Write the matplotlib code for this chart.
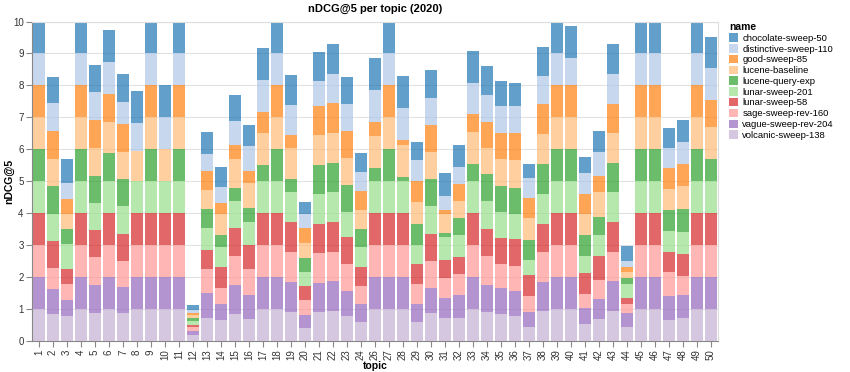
import numpy as np
import matplotlib.pyplot as plt
from matplotlib.patches import Patch

plt.rcParams['font.family'] = ['Liberation Sans', 'DejaVu Sans']

# topic 25 is absent in the data
topics = [str(t) for t in list(range(1, 25)) + list(range(26, 51))]

# nDCG@5 per run, one value per topic (same order as topics)
volcanic_sweep_138 = [1, .85, .78, 1, .89, 1, .87, 1, 1, 1, 1, .20, .71, .66, .85, .69, 1, 1, .92, .42, .92, .95, .79, .61,
                      1, 1, 1, .58, .87, .73, .71, 1, .92, .84, .78, .45, .95, 1, 1, .52, .68, .94, .44, 1, 1, .65, .71, 1, 1]
vague_sweep_rev_204 = [1, .77, .50, 1, .86, 1, .83, 1, 1, 1, 1, .11, .78, .51, .90, .75, 1, 1, .94, .39, .89, .93, .78, .56,
                       1, 1, 1, .59, .78, .61, .73, 1, .83, .81, .80, .47, .91, 1, 1, .50, .64, .94, .45, 1, 1, .76, .73, 1, 1]
sage_sweep_rev_160 = [1, .68, .49, 1, .87, 1, .81, 1, 1, 1, 1, .13, .75, .50, .91, .81, 1, 1, .92, .47, .94, .92, .83, .56,
                      1, 1, 1, .60, .86, .62, .67, 1, .92, .76, .78, .50, .91, 1, 1, .46, .59, .92, .28, 1, 1, .74, .60, 1, 1]
lunar_sweep_58 = [1, .84, .47, 1, .84, 1, .85, 1, 1, 1, 1, .07, .60, .64, .89, .76, 1, 1, .94, .45, .91, .94, .84, .59,
                  1, 1, 1, .65, .84, .57, .52, 1, .83, .81, .83, .65, .90, 1, 1, .66, .75, .92, .17, 1, 1, .65, .69, 1, 1]
lunar_sweep_201 = [1, .85, .79, 1, .87, 1, .86, 1, 1, 1, 1, .13, .71, .64, .83, .73, 1, 1, .93, .42, .93, .92, .81, .61,
                   1, 1, 1, .59, .86, .73, .69, 1, .88, .83, .78, .45, .93, 1, 1, .52, .66, .94, .43, 1, 1, .64, .69, 1, 1]
lucene_query_exp = [1, .85, .47, 1, .84, .87, .85, 0, 1, 0, 1, .08, .58, .37, .42, .41, .51, 1, .42, .44, .92, .92, .84, .59,
                    .43, 1, .14, .65, .85, .11, .54, .54, .84, .81, .83, .64, .94, 1, 1, .66, .55, .92, .19, 1, 1, .66, .71, 1, .69]
lucene_baseline = [1, .86, .48, 1, .88, 1, .86, .95, 1, 1, 1, .09, .60, .65, .90, .78, 1, 1, .96, .47, .94, .94, .85, .58,
                   1, 1, 1, .68, .87, .61, .53, 1, .81, .84, .87, .68, .94, 1, 1, .65, .78, .92, .19, 1, 1, .66, .71, 1, 1]
good_sweep_85 = [1, .88, .48, 1, .86, .87, .85, 0, 1, 0, 1, .08, .59, .34, .42, .40, .65, 1, .42, .47, .91, .92, .84, .60,
                 .44, 1, .15, .67, .83, .11, .53, .55, .84, .82, .83, .65, .94, 1, 1, .63, .52, .92, .18, 1, 1, .65, .71, 1, .84]
distinctive_sweep_110 = [1, .86, .48, 1, .87, 1, .71, .88, 1, 1, 1, .09, .54, .52, .77, .76, 1, 1, .94, .45, .78, .92, .85, .60,
                         1, 1, 1, .66, .86, .45, .52, 1, .83, .82, .84, .60, .88, 1, .87, .66, .76, .93, .18, 1, 1, .64, .69, 1, 1]
chocolate_sweep_50 = [1, .83, .76, 1, .86, 1, .86, .99, 1, 1, 1, .14, .68, .63, .81, .67, 1, 1, .92, .38, .90, .93, .82, .59,
                      1, 1, 1, .57, .85, .71, .70, 1, .91, .80, .75, .44, .90, 1, 1, .51, .65, .94, .46, 1, 1, .63, .68, 1, .98]

# legend order (top of the stack first)
names = ['chocolate-sweep-50', 'distinctive-sweep-110', 'good-sweep-85', 'lucene-baseline',
         'lucene-query-exp', 'lunar-sweep-201', 'lunar-sweep-58', 'sage-sweep-rev-160',
         'vague-sweep-rev-204', 'volcanic-sweep-138']
series = [chocolate_sweep_50, distinctive_sweep_110, good_sweep_85, lucene_baseline,
          lucene_query_exp, lunar_sweep_201, lunar_sweep_58, sage_sweep_rev_160,
          vague_sweep_rev_204, volcanic_sweep_138]
colors = ['#1f77b4', '#aec7e8', '#ff7f0e', '#ffbb78', '#2ca02c',
          '#98df8a', '#d62728', '#ff9896', '#9467bd', '#c5b0d5']

fig = plt.figure(figsize=(8.5, 3.72), dpi=100)
ax = fig.add_axes([32 / 850, 31 / 372, 686 / 850, 319.5 / 372])

x = np.arange(len(topics))
bottom = np.zeros(len(topics))
# draw from the bottom of the stack up
for name, vals, col in zip(names[::-1], series[::-1], colors[::-1]):
    vals = np.array(vals)
    ax.bar(x, vals, 0.86, bottom=bottom, color=col, alpha=0.7, linewidth=0, zorder=2)
    bottom += vals

ax.set_xlim(-0.5, len(topics) - 0.5)
ax.set_ylim(0, 10)
ax.set_yticks(range(11))
ax.set_xticks(x)
ax.set_xticklabels(topics, rotation=90)
ax.grid(axis='y', color='#e2e2e2', linewidth=0.8, zorder=0)
ax.set_axisbelow(True)

for s in ['left', 'bottom']:
    ax.spines[s].set_color('#888888')
for s in ['top', 'right']:
    ax.spines[s].set_color('#dddddd')
ax.tick_params(length=4, color='#888888', labelsize=7, labelcolor='#333333', pad=2)

# axis titles placed by hand, the margins are tight
fig.text(9 / 850, 1 - 181 / 372, 'nDCG@5', rotation=90, ha='center', va='center',
         fontweight='bold', fontsize=7.5)
fig.text(375 / 850, 1 - 366 / 372, 'topic', ha='center', va='center',
         fontweight='bold', fontsize=7.5)
fig.text(375 / 850, 1 - 9 / 372, 'nDCG@5 per topic (2020)', ha='center', va='center',
         fontweight='bold', fontsize=8)

handles = [Patch(facecolor=c, alpha=0.7, linewidth=0) for c in colors]
leg = fig.legend(handles, names, loc='upper left', bbox_to_anchor=(729 / 850, 1 - 22 / 372),
                 frameon=False, title='name', fontsize=6.8, handlelength=1.0, handleheight=1.0,
                 handletextpad=0.4, labelspacing=0.14, borderaxespad=0, borderpad=0)
leg.get_title().set_fontweight('bold')
leg.get_title().set_fontsize(7.5)
leg._legend_box.align = 'left'

fig.savefig('out.png', dpi=100)
